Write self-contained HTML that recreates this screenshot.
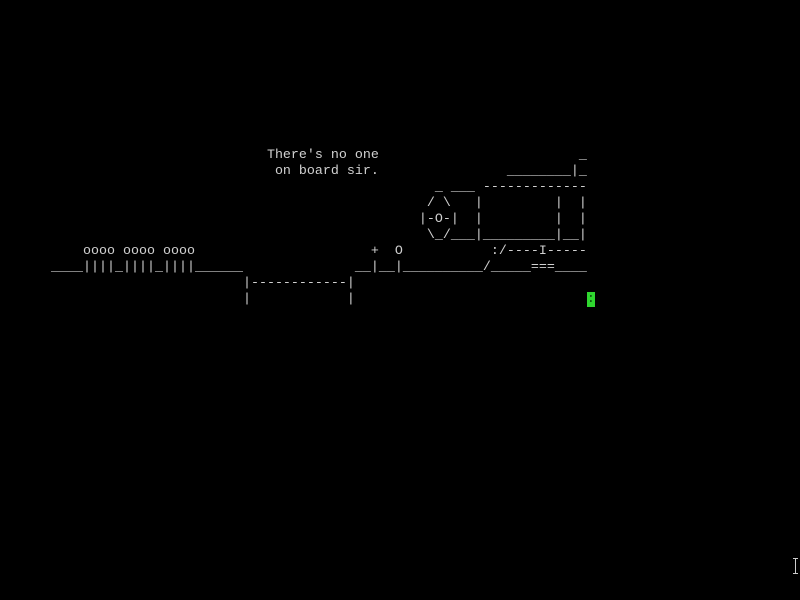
<!DOCTYPE html>
<html><head><meta charset="utf-8"><style>
html,body{margin:0;padding:0;background:#000;width:800px;height:600px;overflow:hidden}
pre{position:absolute;left:3px;top:148px;margin:0;font-family:"Liberation Mono",monospace;font-size:13.33px;line-height:16px;color:#d0d0d0;letter-spacing:0}
.c{background:#2fd62f;color:#0a4a0a}
.ib{position:absolute;left:795px;top:558px;width:1px;height:16px;background:#ccc}
.ib:before,.ib:after{content:"";position:absolute;left:-2px;width:5px;height:1px;background:#ccc}
.ib:before{top:0}.ib:after{bottom:0}
</style></head><body>
<pre>                                 There's no one                         _
                                  on board sir.                ________|_
                                                      _ ___ -------------
                                                     / \   |         |  |
                                                    |-O-|  |         |  |
                                                     \_/___|_________|__|
          oooo oooo oooo                      +  O           :/----I-----
      ____||||_||||_||||______              __|__|__________/_____===____
                              |------------|
                              |            |                             <span class="c">:</span></pre>
<div class="ib"></div>
</body></html>
